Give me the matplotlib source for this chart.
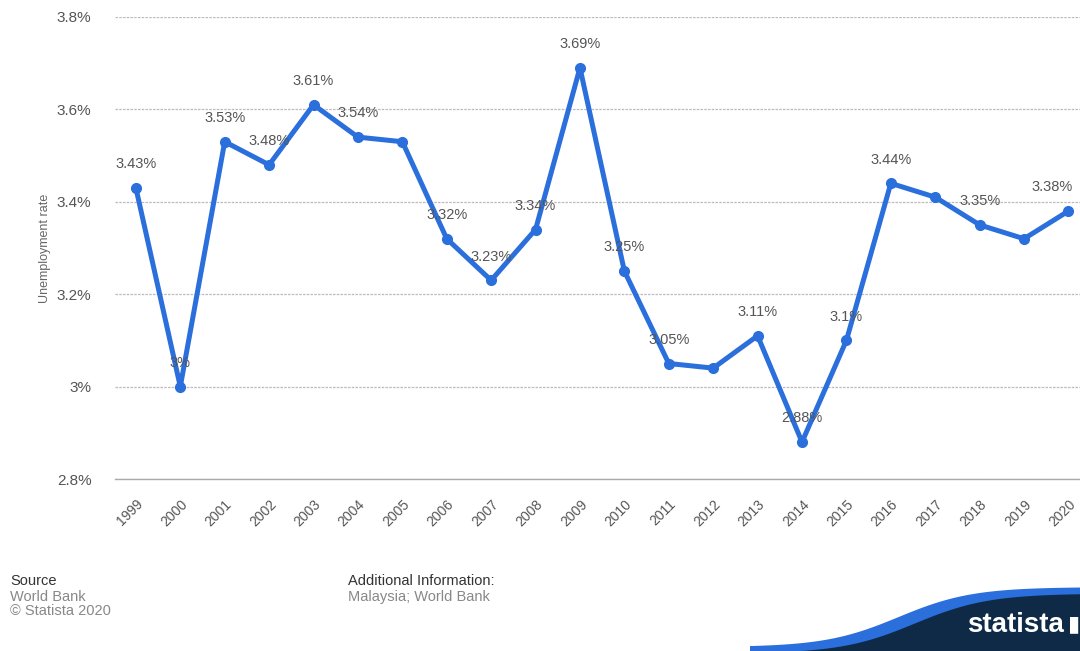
import numpy as np
import matplotlib.pyplot as plt
from matplotlib.patches import Polygon

# 数据
years = ['1999', '2000', '2001', '2002', '2003', '2004', '2005', '2006', '2007', '2008',
         '2009', '2010', '2011', '2012', '2013', '2014', '2015', '2016', '2017', '2018',
         '2019', '2020']
rates = [3.43, 3.00, 3.53, 3.48, 3.61, 3.54, 3.53, 3.32, 3.23, 3.34,
         3.69, 3.25, 3.05, 3.04, 3.11, 2.88, 3.10, 3.44, 3.41, 3.35,
         3.32, 3.38]
labels = ['3.43%', '3%', '3.53%', '3.48%', '3.61%', '3.54%', '', '3.32%', '3.23%', '3.34%',
          '3.69%', '3.25%', '3.05%', '', '3.11%', '2.88%', '3.1%', '3.44%', '', '3.35%',
          '', '3.38%']
yticks = [2.8, 3.0, 3.2, 3.4, 3.6, 3.8]
ytick_labels = ['2.8%', '3%', '3.2%', '3.4%', '3.6%', '3.8%']

BLUE = '#2a6fdb'
plt.rcParams['font.family'] = ['Liberation Sans', 'DejaVu Sans']

fig = plt.figure(figsize=(10.8, 6.51), dpi=100)
ax = fig.add_axes([0.1065, 0.2642, 0.8935, 0.7097])

x = np.arange(len(years))
ax.plot(x, rates, color=BLUE, linewidth=3.6, marker='o', markersize=7,
        solid_joinstyle='round', zorder=3, clip_on=False)

for i, (xi, yi, lab) in enumerate(zip(x, rates, labels)):
    if lab:
        dx = -12 if i == len(x) - 1 else 0  # 最后一个标签向左移，避免被裁掉
        ax.annotate(lab, (xi, yi), xytext=(dx, 12), textcoords='offset points',
                    ha='center', va='bottom', fontsize=10.5, color='#555555', zorder=4)

ax.set_xlim(-0.47, 21.26)
ax.set_ylim(2.8, 3.8)
ax.set_yticks(yticks)
ax.set_yticklabels(ytick_labels, fontsize=11, color='#555555')
ax.set_xticks(x)
ax.set_xticklabels(years, rotation=45, fontsize=10, color='#555555',
                   ha='right', rotation_mode='anchor')
ax.tick_params(axis='both', length=0)
ax.tick_params(axis='y', pad=17)
ax.tick_params(axis='x', pad=13)
ax.grid(axis='y', color='#bbbbbb', linestyle=(0, (2, 1)), linewidth=0.9)
ax.axhline(2.8, color='#aaaaaa', linewidth=1.0, clip_on=False, zorder=1)
for s in ax.spines.values():
    s.set_visible(False)
ax.set_ylabel('Unemployment rate', fontsize=9, color='#666666', labelpad=4)

# 页脚
fig.text(10 / 1080, 1 - 581 / 651, 'Source', fontsize=10.5, color='#333333', va='center')
fig.text(10 / 1080, 1 - 597 / 651, 'World Bank', fontsize=10.5, color='#888888', va='center')
fig.text(10 / 1080, 1 - 611 / 651, '\u00a9 Statista 2020', fontsize=10.5, color='#888888', va='center')
fig.text(348 / 1080, 1 - 581 / 651, 'Additional Information:', fontsize=10.5, color='#333333', va='center')
fig.text(348 / 1080, 1 - 597 / 651, 'Malaysia; World Bank', fontsize=10.5, color='#888888', va='center')

# statista 标志
t = np.linspace(0, 1, 60)
wx = 750 + t * (1080 - 750)
wy = 651 - 60 * (1 / (1 + np.exp(-(t - 0.45) * 9)))
edge = np.column_stack([wx / 1080, 1 - wy / 651])
blue_poly = np.vstack([edge + [0, 0.006], [[1, 0], [750 / 1080, 0]]])
navy_poly = np.vstack([edge + [0.015, -0.004], [[1, 0], [765 / 1080, 0]]])
fig.patches.append(Polygon(blue_poly, closed=True, transform=fig.transFigure,
                           facecolor=BLUE, edgecolor='none'))
fig.patches.append(Polygon(navy_poly, closed=True, transform=fig.transFigure,
                           facecolor='#0e2a47', edgecolor='none'))
fig.text(1064 / 1080, 1 - 625 / 651, 'statista', fontsize=20, color='white',
         ha='right', va='center', fontweight='bold')
fig.text(1068 / 1080, 1 - 625 / 651, '\u25ae', fontsize=16, color='white',
         ha='left', va='center')

fig.savefig('out.png', dpi=100)
